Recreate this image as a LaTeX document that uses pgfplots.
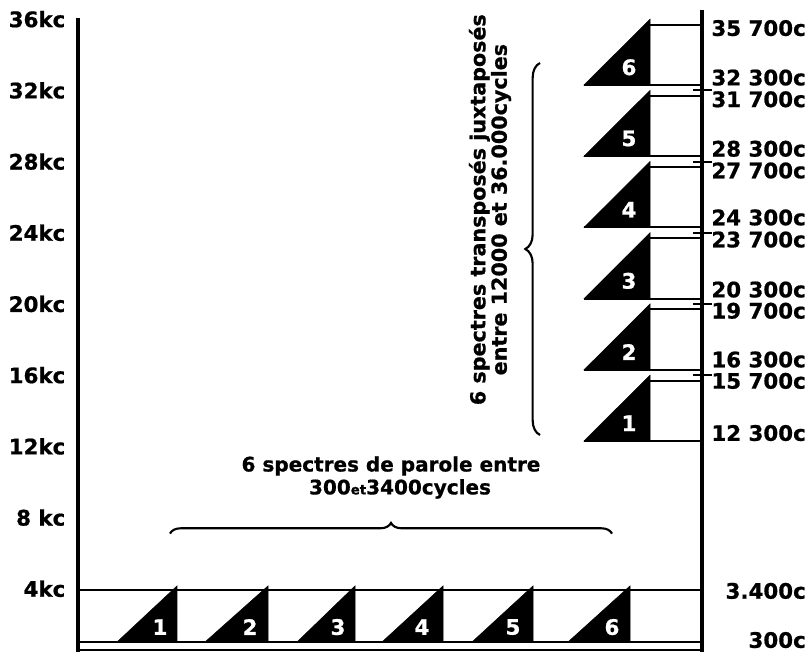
\documentclass[border=0pt]{standalone}
\usepackage{fontspec}
\setmainfont{DejaVu Sans}[BoldFeatures={FakeBold=0.8}]
\usepackage{pgfplots}
\pgfplotsset{compat=1.18}
\usetikzlibrary{decorations.pathreplacing}
\newcommand{\lab}{\bfseries\fontsize{16}{18}\selectfont}
\newcommand{\labs}{\bfseries\fontsize{15}{17}\selectfont}
\begin{document}
\begin{tikzpicture}
\begin{axis}[
  scale only axis, width=547.5pt, height=489pt,
  xmin=78, xmax=808, ymin=0.449, ymax=37.079,
  clip=false,
  axis line style={draw=none}, tick style={draw=none},
  xtick=\empty,
  ytick={4,8,12,16,20,24,28,32,36},
  yticklabels={4kc,8 kc,12kc,16kc,20kc,24kc,28kc,32kc,36kc},
  yticklabel style={font=\lab, anchor=east, xshift=-6pt},
  ytick pos=left,
]
\path (axis cs:0,0.449) rectangle (axis cs:808,37.079);
% axes
\addplot[black, line width=3.2pt] coordinates {(78,0.449) (78,36.07)};
\addplot[black, line width=2.5pt] coordinates {(702,0.449) (702,36.5)};
% right small ticks
\addplot[black, line width=1.5pt] coordinates {(693,16) (712,16)};
\addplot[black, line width=1.5pt] coordinates {(693,20) (712,20)};
\addplot[black, line width=1.5pt] coordinates {(693,24) (712,24)};
\addplot[black, line width=1.5pt] coordinates {(693,28) (712,28)};
\addplot[black, line width=1.5pt] coordinates {(693,32) (712,32)};
% lower band lines
\addplot[black, line width=1.5pt] coordinates {(78,3.93) (702,3.93)};
\addplot[black, line width=1.5pt] coordinates {(78,1.01) (702,1.01)};
\addplot[black, line width=1.5pt] coordinates {(78,0.56) (702,0.56)};
% lower triangles
\addplot[fill=black, draw=black] coordinates {(117,1.01) (177,1.01) (177,4.16)} -- cycle;
\addplot[fill=black, draw=black] coordinates {(205,1.01) (268,1.01) (268,4.16)} -- cycle;
\addplot[fill=black, draw=black] coordinates {(297,1.01) (355,1.01) (355,4.16)} -- cycle;
\addplot[fill=black, draw=black] coordinates {(382,1.01) (443,1.01) (443,4.16)} -- cycle;
\addplot[fill=black, draw=black] coordinates {(472,1.01) (533,1.01) (533,4.16)} -- cycle;
\addplot[fill=black, draw=black] coordinates {(568,1.01) (630,1.01) (630,4.16)} -- cycle;
\begin{scope}[every node/.style={text=white, font=\lab}]
\node at (axis cs:160,1.85) {1};
\node at (axis cs:250,1.85) {2};
\node at (axis cs:338,1.85) {3};
\node at (axis cs:422,1.85) {4};
\node at (axis cs:513,1.85) {5};
\node at (axis cs:612,1.85) {6};
\end{scope}
% upper bands
\addplot[black, line width=1.5pt] coordinates {(650,15.7) (702,15.7)};
\addplot[black, line width=1.5pt] coordinates {(584,12.3) (702,12.3)};
\addplot[fill=black, draw=black] coordinates {(584,12.3) (650,12.3) (650,16.0)} -- cycle;
\addplot[black, line width=1.5pt] coordinates {(650,19.7) (702,19.7)};
\addplot[black, line width=1.5pt] coordinates {(584,16.3) (702,16.3)};
\addplot[fill=black, draw=black] coordinates {(584,16.3) (650,16.3) (650,20.0)} -- cycle;
\addplot[black, line width=1.5pt] coordinates {(650,23.7) (702,23.7)};
\addplot[black, line width=1.5pt] coordinates {(584,20.3) (702,20.3)};
\addplot[fill=black, draw=black] coordinates {(584,20.3) (650,20.3) (650,24.0)} -- cycle;
\addplot[black, line width=1.5pt] coordinates {(650,27.7) (702,27.7)};
\addplot[black, line width=1.5pt] coordinates {(584,24.3) (702,24.3)};
\addplot[fill=black, draw=black] coordinates {(584,24.3) (650,24.3) (650,28.0)} -- cycle;
\addplot[black, line width=1.5pt] coordinates {(650,31.7) (702,31.7)};
\addplot[black, line width=1.5pt] coordinates {(584,28.3) (702,28.3)};
\addplot[fill=black, draw=black] coordinates {(584,28.3) (650,28.3) (650,32.0)} -- cycle;
\addplot[black, line width=1.5pt] coordinates {(650,35.7) (702,35.7)};
\addplot[black, line width=1.5pt] coordinates {(584,32.3) (702,32.3)};
\addplot[fill=black, draw=black] coordinates {(584,32.3) (650,32.3) (650,36.0)} -- cycle;
\begin{scope}[every node/.style={text=white, font=\lab}]
\node at (axis cs:629,13.3) {1};
\node at (axis cs:629,17.3) {2};
\node at (axis cs:629,21.3) {3};
\node at (axis cs:629,25.3) {4};
\node at (axis cs:629,29.3) {5};
\node at (axis cs:629,33.3) {6};
\end{scope}
% right labels
\begin{scope}[every node/.style={anchor=east, font=\lab, inner sep=0pt}]
\node at (axis cs:806,35.5) {35 700c};
\node at (axis cs:806,32.72) {32 300c};
\node at (axis cs:806,31.50) {31 700c};
\node at (axis cs:806,28.72) {28 300c};
\node at (axis cs:806,27.50) {27 700c};
\node at (axis cs:806,24.86) {24 300c};
\node at (axis cs:806,23.62) {23 700c};
\node at (axis cs:806,20.81) {20 300c};
\node at (axis cs:806,19.62) {19 700c};
\node at (axis cs:806,16.88) {16 300c};
\node at (axis cs:806,15.68) {15 700c};
\node at (axis cs:806,12.75) {12 300c};
\node at (axis cs:806,3.88) {3.400c};
\node at (axis cs:806,1.12) {300c};
\end{scope}
% braces and annotations
\draw[decorate, decoration={brace, amplitude=8pt}, line width=1.6pt] (axis cs:170,7.1) -- (axis cs:612,7.1);
\draw[decorate, decoration={brace, amplitude=11pt}, line width=1.6pt] (axis cs:540,12.64) -- (axis cs:540,33.54);
\node[font=\labs] at (axis cs:391,10.9) {6 spectres de parole entre};
\node[font=\labs] at (axis cs:400,9.61) {300{\fontsize{10}{12}\selectfont et}3400cycles};
\node[font=\bfseries\fontsize{15.5}{16}\selectfont, rotate=90, align=center] at (axis cs:490,25.3) {6 spectres transposés juxtaposés\\entre 12000 et 36.000cycles};
\end{axis}
\end{tikzpicture}
\end{document}
